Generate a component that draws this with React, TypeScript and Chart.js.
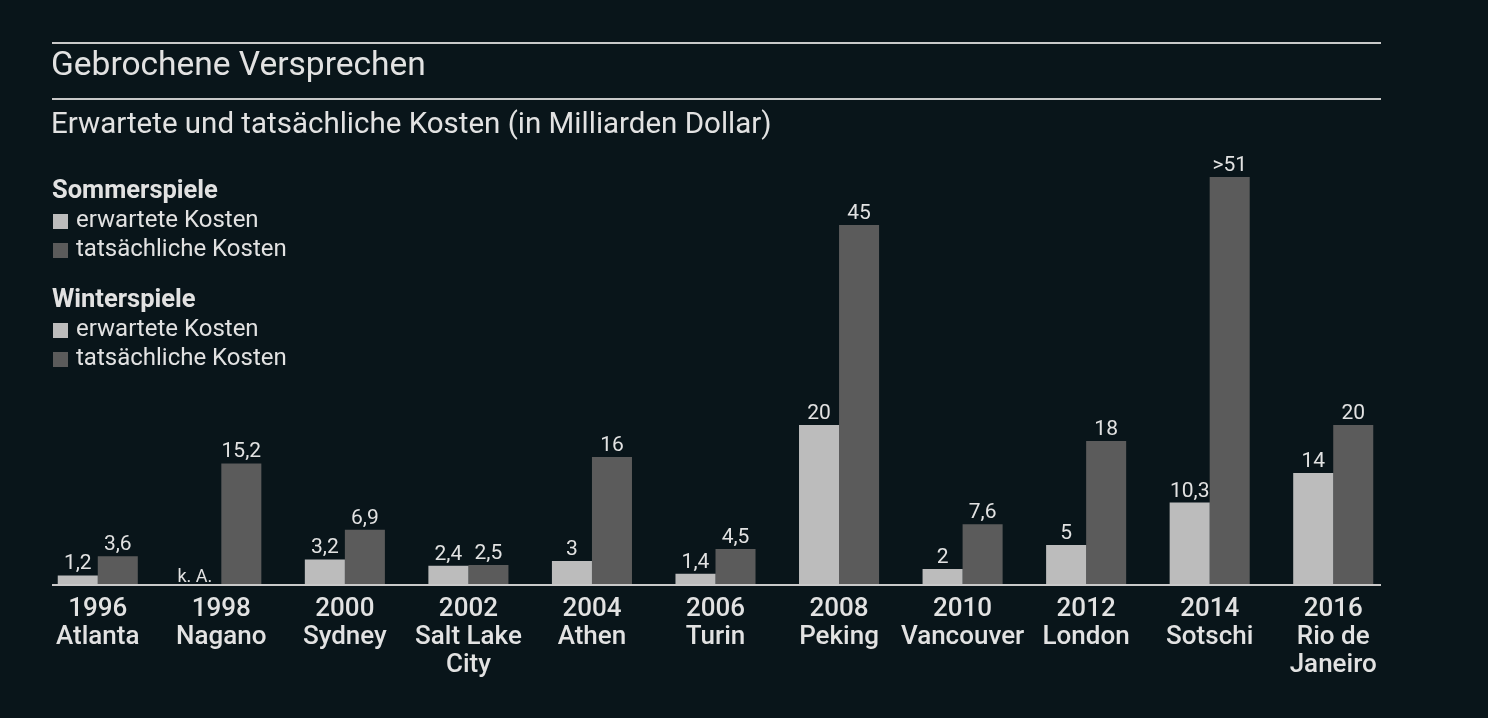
import { useEffect, useRef } from 'react';
import { Chart, registerables } from 'chart.js';

Chart.register(...registerables);

const categories = [
  ['1996', 'Atlanta'],
  ['1998', 'Nagano'],
  ['2000', 'Sydney'],
  ['2002', 'Salt Lake', 'City'],
  ['2004', 'Athen'],
  ['2006', 'Turin'],
  ['2008', 'Peking'],
  ['2010', 'Vancouver'],
  ['2012', 'London'],
  ['2014', 'Sotschi'],
  ['2016', 'Rio de', 'Janeiro'],
];

// null = keine Angabe
const expectedCosts = [1.2, null, 3.2, 2.4, 3, 1.4, 20, 2, 5, 10.3, 14];
const actualCosts = [3.6, 15.2, 6.9, 2.5, 16, 4.5, 45, 7.6, 18, 51, 20];

const expectedLabels = ['1,2', 'k. A.', '3,2', '2,4', '3', '1,4', '20', '2', '5', '10,3', '14'];
const actualLabels = ['3,6', '15,2', '6,9', '2,5', '16', '4,5', '45', '7,6', '18', '>51', '20'];

const BG = '#09151a';
const LIGHT = '#bcbcbc';
const DARK = '#5b5b5b';
const TEXT = '#e2e2e2';
const RULE = '#c9c9c9';
const FONT = 'Roboto, "Noto Sans", sans-serif';

const headerPlugin = {
  id: 'header',
  afterDraw(chart: Chart) {
    const ctx = chart.ctx;
    ctx.save();
    ctx.strokeStyle = RULE;
    ctx.lineWidth = 2;
    ctx.beginPath();
    ctx.moveTo(52, 43);
    ctx.lineTo(1381, 43);
    ctx.moveTo(52, 99);
    ctx.lineTo(1381, 99);
    ctx.stroke();

    ctx.fillStyle = TEXT;
    ctx.textAlign = 'left';
    ctx.textBaseline = 'middle';
    ctx.font = `400 33.5px ${FONT}`;
    ctx.fillText('Gebrochene Versprechen', 51, 67);
    ctx.font = `400 29.5px ${FONT}`;
    ctx.fillText('Erwartete und tatsächliche Kosten (in Milliarden Dollar)', 51, 126);

    const groups = [
      { title: 'Sommerspiele', y: 192 },
      { title: 'Winterspiele', y: 301 },
    ];
    groups.forEach((g) => {
      ctx.fillStyle = TEXT;
      ctx.font = `700 25.5px ${FONT}`;
      ctx.fillText(g.title, 52, g.y);
      ctx.font = `400 24px ${FONT}`;
      [
        { label: 'erwartete Kosten', color: LIGHT },
        { label: 'tatsächliche Kosten', color: DARK },
      ].forEach((item, i) => {
        const y = g.y + 29 + i * 29;
        ctx.fillStyle = item.color;
        ctx.fillRect(53, y - 7, 15, 15);
        ctx.fillStyle = TEXT;
        ctx.fillText(item.label, 76, y);
      });
    });
    ctx.restore();
  },
};

const valueLabelPlugin = {
  id: 'valueLabels',
  afterDatasetsDraw(chart: Chart) {
    const ctx = chart.ctx;
    const xScale = chart.scales.x;
    const yScale = chart.scales.y;
    const zero = yScale.getPixelForValue(0);
    ctx.save();

    // Grundlinie
    ctx.strokeStyle = RULE;
    ctx.lineWidth = 2;
    ctx.beginPath();
    ctx.moveTo(52, zero);
    ctx.lineTo(1381, zero);
    ctx.stroke();

    ctx.fillStyle = TEXT;
    const labelSets = [expectedLabels, actualLabels];
    chart.data.datasets.forEach((ds, di) => {
      const meta = chart.getDatasetMeta(di);
      meta.data.forEach((bar: any, i: number) => {
        const v = ds.data[i];
        if (v === null || v === undefined) {
          ctx.font = `400 18px ${FONT}`;
          ctx.textAlign = 'right';
          ctx.textBaseline = 'alphabetic';
          ctx.fillText(labelSets[di][i], xScale.getPixelForValue(i) - 9, zero - 3);
          return;
        }
        ctx.font = `400 21px ${FONT}`;
        ctx.textAlign = 'center';
        ctx.textBaseline = 'alphabetic';
        ctx.fillText(labelSets[di][i], bar.x, bar.y - 6);
      });
    });
    ctx.restore();
  },
};

export default function App(): React.JSX.Element {
  const canvasRef = useRef<HTMLCanvasElement>(null);
  const chartRef = useRef<Chart | null>(null);

  useEffect(() => {
    document.body.style.margin = '0';
    document.body.style.background = BG;
    if (!canvasRef.current) return;

    if (chartRef.current) {
      chartRef.current.destroy();
    }

    chartRef.current = new Chart(canvasRef.current, {
      type: 'bar',
      data: {
        labels: categories,
        datasets: [
          {
            label: 'erwartete Kosten',
            data: expectedCosts,
            backgroundColor: LIGHT,
            borderWidth: 0,
            categoryPercentage: 0.648,
            barPercentage: 1,
          },
          {
            label: 'tatsächliche Kosten',
            data: actualCosts,
            backgroundColor: DARK,
            borderWidth: 0,
            categoryPercentage: 0.648,
            barPercentage: 1,
          },
        ],
      },
      options: {
        responsive: true,
        maintainAspectRatio: false,
        animation: false,
        layout: {
          padding: { top: 145, left: 36, right: 93, bottom: 0 },
        },
        plugins: {
          legend: { display: false },
          tooltip: { enabled: false },
          title: { display: false },
        },
        scales: {
          x: {
            grid: { display: false, drawTicks: false },
            border: { display: false },
            ticks: {
              color: TEXT,
              padding: 10,
              maxRotation: 0,
              autoSkip: false,
              font: { family: FONT, size: 26, weight: 500, lineHeight: 1.077 },
            },
            afterFit(scale: any) {
              scale.height = 133;
            },
          },
          y: {
            display: false,
            min: 0,
            max: 55,
          },
        },
      },
      plugins: [headerPlugin, valueLabelPlugin],
    });

    return () => {
      chartRef.current?.destroy();
      chartRef.current = null;
    };
  }, []);

  return (
    <div style={{ width: 1488, height: 718, background: BG, position: 'relative' }}>
      <canvas ref={canvasRef} />
    </div>
  );
}
